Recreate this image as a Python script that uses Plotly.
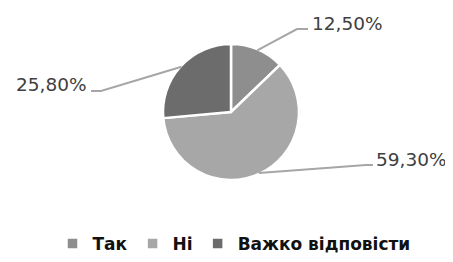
import math
import plotly.graph_objects as go

categories = ["Так", "Ні", "Важко відповісти"]
values = [12.5, 59.3, 25.8]
label_texts = ["12,50%", "59,30%", "25,80%"]
colors = ["#8e8e8e", "#a7a7a7", "#6c6c6c"]

# the page body adds an 8px margin, so the figure is sized to fill the rest
OFF = 8
W, H = 453 - OFF, 262 - OFF
CX, CY, R = 231, 112, 68  # pie centre / radius (px in the final picture)

# label anchor (px) and elbow points of leader lines (px)
label_pos = [(310, 23, "left"), (374, 159, "left"), (89, 84, "right")]
elbows = [[(297, 29), (308, 29)], [(366, 165), (373, 165)], [(101, 91), (91, 91)]]

def px(x, y):
    return (x - OFF) / W, 1 - (y - OFF) / H

fig = go.Figure(go.Pie(
    labels=categories, values=values, sort=False, direction="clockwise",
    rotation=0, textinfo="none", hoverinfo="label+value",
    marker=dict(colors=colors, line=dict(color="white", width=2.5)),
    domain=dict(x=[px(CX - R, 0)[0], px(CX + R, 0)[0]],
                y=[px(0, CY + R)[1], px(0, CY - R)[1]]),
))

total = sum(values)
cum = 0
shapes, annotations = [], []
for v, txt, (lx, ly, anc), elb in zip(values, label_texts, label_pos, elbows):
    mid = (cum + v / 2) / total * 2 * math.pi
    cum += v
    sx, sy = CX + (R - 1) * math.sin(mid), CY - (R - 1) * math.cos(mid)
    pts = [(sx, sy)] + elb
    path = "M " + " L ".join(f"{px(a, b)[0]},{px(a, b)[1]}" for a, b in pts)
    shapes.append(dict(type="path", xref="paper", yref="paper", path=path,
                       line=dict(color="#a6a6a6", width=2)))
    ax, ay = px(lx, ly)
    annotations.append(dict(x=ax, y=ay, xref="paper", yref="paper", text=txt,
                            showarrow=False, xanchor=anc, yanchor="middle",
                            font=dict(family="DejaVu Sans", size=18.5, color="#404040")))

lx, ly = px(234, 244)
fig.update_layout(
    width=W, height=H, margin=dict(l=0, r=0, t=0, b=0),
    paper_bgcolor="white", plot_bgcolor="white",
    shapes=shapes, annotations=annotations,
    showlegend=True,
    legend=dict(orientation="h", x=lx, xanchor="center", y=ly, yanchor="middle",
                font=dict(family="DejaVu Sans", size=17, color="#111111", weight="bold"),
                itemwidth=30, traceorder="normal"),
)
fig.write_html("out.html")
